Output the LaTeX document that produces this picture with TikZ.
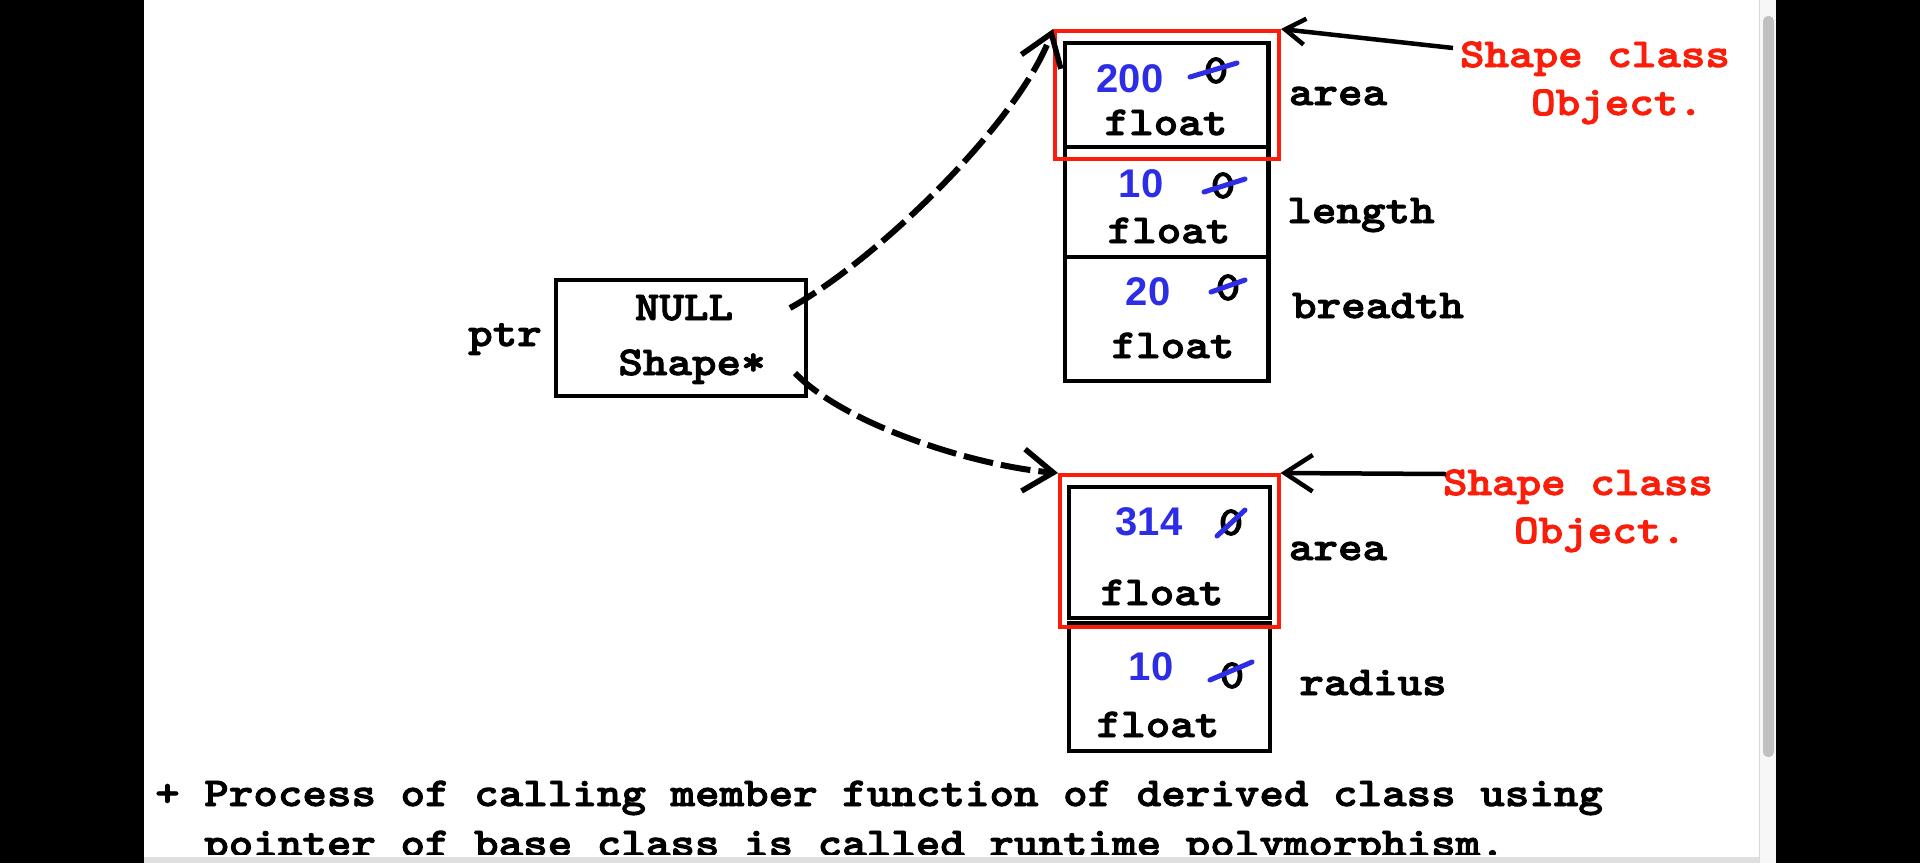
\documentclass[tikz,border=0pt]{standalone}
\usepackage{fontspec}
\setmainfont{Liberation Serif}
\newfontfamily\courf{lmmonolt10-bold}[Extension=.otf, FakeStretch=1.14, FakeBold=2.2]
\newfontfamily\numf{Liberation Sans}
\usetikzlibrary{arrows.meta,calc}
\definecolor{myred}{RGB}{250,30,10}
\definecolor{numblue}{RGB}{45,45,230}
\definecolor{sbgray}{RGB}{192,192,192}
\begin{document}
\begin{tikzpicture}[x=1pt,y=-1pt,
  mono/.style={font=\courf\fontsize{41}{49}\selectfont, inner sep=0pt, anchor=base},
  redlabel/.style={mono, text=myred},
  num/.style={font=\numf\bfseries\fontsize{40}{48}\selectfont, text=numblue, inner sep=0pt, anchor=base},
  cellbox/.style={draw, line width=4.5pt, inner sep=0pt},
  redbox/.style={draw=myred, line width=4pt, inner sep=0pt},
  ptrline/.style={line width=6pt, dash pattern=on 30pt off 8pt, -{Straight Barb[length=30pt,width=42pt,line width=5.5pt]}},
  lblarrow/.style={line width=4.5pt, -{Straight Barb[length=#1,width=1.3*#1,line width=4.5pt]}},
  strike/.style={draw=numblue, line width=5pt, line cap=round}
]
\useasboundingbox (0,0) rectangle (1920,863);
% screen background
\fill[black] (0,0) rectangle (144,863);
\fill[black] (1776,0) rectangle (1920,863);
\fill[white] (144,0) rectangle (1776,863);
\fill[gray!6] (1759,0) rectangle (1776,863);
\draw[gray!30, line width=1pt] (1759,0) -- (1759,863);
\fill[sbgray, rounded corners=5pt] (1763,16) rectangle (1774,757);
\fill[gray!25] (144,857) rectangle (1759,863);

% pointer box
\node[cellbox, line width=4pt, minimum width=250pt, minimum height=116pt] (ptrbox) at (681,338) {};
\node[mono] (null) at (684,320) {NULL};
\node[mono] (shp) at (692,375) {Shape*};
\node[mono] (ptr) at (505,346) {ptr};

% upper object (rectangle)
\node[cellbox, minimum width=203.5pt, minimum height=104pt] (c1) at (1166.75,95) {};
\node[cellbox, minimum width=203.5pt, minimum height=110pt] (c2) at (1166.75,202) {};
\node[cellbox, minimum width=203.5pt, minimum height=124pt] (c3) at (1166.75,319) {};
\node[redbox, minimum width=224pt, minimum height=127.5pt] (redA) at (1167,94.75) {};

\node[num] (v1) at (1130,92) {200};
\node[mono] (z1) at (1216,83) {0};
\draw[strike] (1190,77) -- (1237,63);
\node[mono] (t1) at (1166,135) {float};
\node[mono] (n1) at (1338,105) {area};

\node[num] (v2) at (1141,197) {10};
\node[mono] (z2) at (1223,198) {0};
\draw[strike] (1204,192) -- (1245,179);
\node[mono] (t2) at (1169,243) {float};
\node[mono] (n2) at (1361,223) {length};

\node[num] (v3) at (1148,305) {20};
\node[mono] (z3) at (1228,300) {0};
\draw[strike] (1211,292) -- (1245,280);
\node[mono] (t3) at (1173,358) {float};
\node[mono] (n3) at (1378,318) {breadth};

\node[redlabel] (lblA) at (1595,67) {Shape class};
\node[redlabel] (lblA2) at (1617,115) {Object.};

% lower object (circle)
\node[cellbox, minimum width=201pt, minimum height=131pt] (d1) at (1169.5,552.5) {};
\node[cellbox, minimum width=201pt, minimum height=128pt] (d2) at (1169.5,687) {};
\node[redbox, minimum width=218.5pt, minimum height=151.5pt] (redB) at (1169.25,550.75) {};

\node[num] (w1) at (1149,535) {314};
\node[mono] (y1) at (1231,535) {0};
\draw[strike] (1217,536) -- (1245,510);
\node[mono] (u1) at (1162,605) {float};
\node[mono] (m1) at (1338,560) {area};

\node[num] (w2) at (1151,680) {10};
\node[mono] (y2) at (1232,688) {0};
\draw[strike] (1210,680) -- (1252,662);
\node[mono] (u2) at (1158,737) {float};
\node[mono] (m2) at (1373,695) {radius};

\node[redlabel] (lblB) at (1578,495) {Shape class};
\node[redlabel] (lblB2) at (1600,543) {Object.};

% connectors
\coordinate (s1) at ($(ptrbox.east)+(-18,-30)$);
\coordinate (s2) at ($(ptrbox.east)+(-13,35)$);
\draw[ptrline] (s1) .. controls (880,258) and (1020,120) .. (redA.north west);
\draw[ptrline] (s2) .. controls (845,425) and (975,466) .. (redB.north west);

\coordinate (aA) at (1453,48);
\coordinate (aB) at (1446,474);
\draw[lblarrow=20pt] (aA) -- (redA.north east);
\draw[lblarrow=28pt] (aB) -- (redB.north east);

% bottom text
\node[mono, anchor=base west] (line1) at (155,806) {+ Process of calling member function of derived class using};
\begin{scope}
\clip (144,0) rectangle (1776,854);
\node[mono, anchor=base west] (line2) at (204,856) {pointer of base class is called runtime polymorphism.};
\end{scope}
\end{tikzpicture}
\end{document}
